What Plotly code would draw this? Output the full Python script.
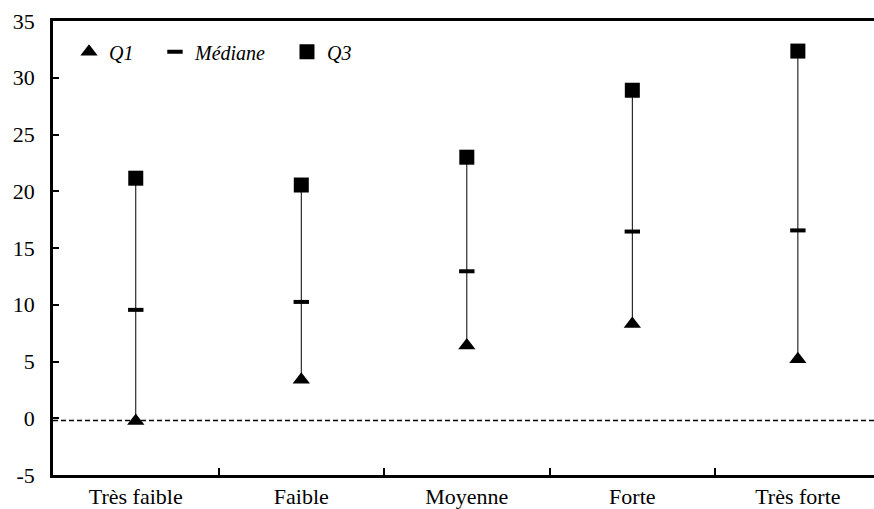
import plotly.graph_objects as go

# ---- data ----
categories = ["Très faible", "Faible", "Moyenne", "Forte", "Très forte"]
q1_values = [-0.25, 3.4, 6.4, 8.3, 5.2]
median_values = [9.55, 10.25, 12.95, 16.45, 16.55]
q3_values = [21.15, 20.55, 23.0, 28.9, 32.35]
y_tick_values = [-5, 0, 5, 10, 15, 20, 25, 30, 35]
y_tick_labels = ["-5", "0", "5", "10", "15", "20", "25", "30", "35"]
reference_level = -0.2

FONT = "'Liberation Serif', 'Times New Roman', Times, serif"

# whisker segments Q1 -> Q3 for each category
wx, wy = [], []
for c, lo, hi in zip(categories, q1_values, q3_values):
    wx += [c, c, None]
    wy += [lo, hi, None]

fig = go.Figure()
fig.add_trace(go.Scatter(
    x=wx, y=wy, mode="lines", line=dict(color="black", width=1),
    showlegend=False, hoverinfo="skip"))
fig.add_trace(go.Scatter(
    x=categories, y=q1_values, mode="markers", name="Q1",
    marker=dict(symbol="triangle-up", size=15, color="black"),
    legend="legend"))
fig.add_trace(go.Scatter(
    x=categories, y=median_values, mode="markers", name="Médiane",
    marker=dict(symbol="line-ew", size=11, color="black",
                line=dict(color="black", width=4)),
    legend="legend2"))
fig.add_trace(go.Scatter(
    x=categories, y=q3_values, mode="markers", name="Q3",
    marker=dict(symbol="square", size=15, color="black"),
    legend="legend3"))

fig.add_shape(type="line", xref="paper", x0=0, x1=1, yref="y",
              y0=reference_level, y1=reference_level,
              line=dict(color="black", width=1.6, dash="5px,3px"), layer="below")

legend_common = dict(
    orientation="h", yanchor="middle", y=0.932, xanchor="left",
    bgcolor="rgba(0,0,0,0)", borderwidth=0,
    font=dict(family=FONT, size=20, color="black", style="italic"),
)
fig.update_layout(
    width=874, height=509,
    margin=dict(l=53, r=0, t=21, b=34),
    paper_bgcolor="white", plot_bgcolor="white",
    font=dict(family=FONT, size=22, color="black"),
    legend=dict(x=0.0195, **legend_common),
    legend2=dict(x=0.1242, **legend_common),
    legend3=dict(x=0.2850, **legend_common),
)
fig.update_xaxes(
    type="category", categoryorder="array", categoryarray=categories,
    range=[-0.5, 4.46], tickson="boundaries",
    ticks="inside", ticklen=7, tickwidth=2, tickcolor="black",
    showline=True, linewidth=2.5, linecolor="black", mirror=True,
    showgrid=False, zeroline=False,
    tickfont=dict(family=FONT, size=22, color="black"),
)
fig.update_yaxes(
    range=[-5, 35], tickvals=y_tick_values, ticktext=y_tick_labels,
    ticks="inside", ticklen=6, tickwidth=2, tickcolor="black",
    showline=True, linewidth=2.5, linecolor="black",
    showgrid=False, zeroline=False, ticklabelstandoff=11,
    tickfont=dict(family=FONT, size=22, color="black"),
)

fig.write_html(
    "out.html",
    config={"displayModeBar": False},
    post_script="document.body.style.margin='0';document.body.style.padding='0';",
)
